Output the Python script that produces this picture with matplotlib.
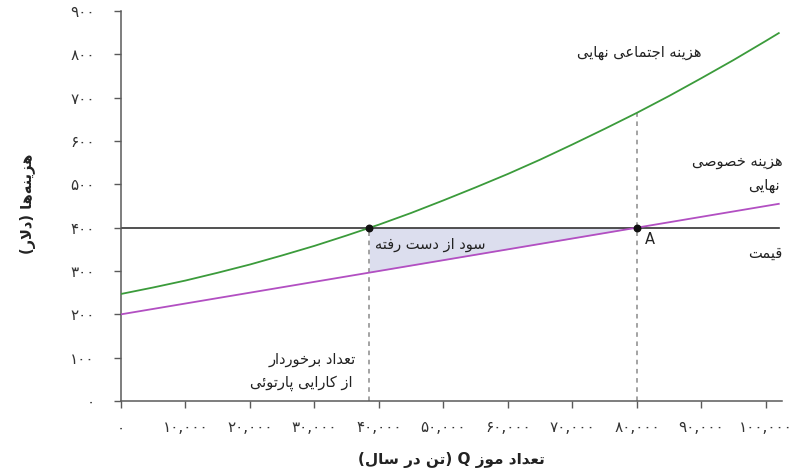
import numpy as np
import matplotlib
matplotlib.use("Agg")
import matplotlib.pyplot as plt

# --- data ---
q_tons = [0, 5000, 10000, 15000, 20000, 25000, 30000, 35000, 40000, 45000, 50000,
          55000, 60000, 65000, 70000, 75000, 80000, 85000, 90000, 95000, 100000, 102000]
msc = [247, 262, 278, 296, 315, 336, 358, 382, 407, 434, 463,
       493, 524, 557, 592, 628, 665, 704, 745, 787, 831, 849]   # marginal social cost
mpc = [200, 212.5, 225, 237.5, 250, 262.5, 275, 287.5, 300, 312.5, 325,
       337.5, 350, 362.5, 375, 387.5, 400, 412.5, 425, 437.5, 450, 455]   # marginal private cost
price = 400
q_pareto = 38500
q_market = 80000

x_ticks = [0, 10000, 20000, 30000, 40000, 50000, 60000, 70000, 80000, 90000, 100000]
y_ticks = [0, 100, 200, 300, 400, 500, 600, 700, 800, 900]

label_msc = "هزینه اجتماعی نهایی"
label_mpc = ["هزینه خصوصی", "نهایی"]
label_price = "قیمت"
label_loss = "سود از دست رفته"
label_pareto = ["تعداد برخوردار", "از کارایی پارتوئی"]
label_y = "هزینه\u200cها (دلار)"
label_x = "تعداد موز Q (تن در سال)"

# --- tiny arabic/persian shaper (matplotlib does no shaping itself) ---
FORMS = {
    'ا': (0xFE8D, 0xFE8E, 0xFE8D, 0xFE8E),
    'د': (0xFEA9, 0xFEAA, 0xFEA9, 0xFEAA),
    'ر': (0xFEAD, 0xFEAE, 0xFEAD, 0xFEAE),
    'ز': (0xFEAF, 0xFEB0, 0xFEAF, 0xFEB0),
    'و': (0xFEED, 0xFEEE, 0xFEED, 0xFEEE),
    'ب': (0xFE8F, 0xFE90, 0xFE91, 0xFE92),
    'ت': (0xFE95, 0xFE96, 0xFE97, 0xFE98),
    'ج': (0xFE9D, 0xFE9E, 0xFE9F, 0xFEA0),
    'خ': (0xFEA5, 0xFEA6, 0xFEA7, 0xFEA8),
    'س': (0xFEB1, 0xFEB2, 0xFEB3, 0xFEB4),
    'ص': (0xFEB9, 0xFEBA, 0xFEBB, 0xFEBC),
    'ع': (0xFEC9, 0xFECA, 0xFECB, 0xFECC),
    'ف': (0xFED1, 0xFED2, 0xFED3, 0xFED4),
    'ق': (0xFED5, 0xFED6, 0xFED7, 0xFED8),
    'ل': (0xFEDD, 0xFEDE, 0xFEDF, 0xFEE0),
    'م': (0xFEE1, 0xFEE2, 0xFEE3, 0xFEE4),
    'ن': (0xFEE5, 0xFEE6, 0xFEE7, 0xFEE8),
    'ه': (0xFEE9, 0xFEEA, 0xFEEB, 0xFEEC),
    'ئ': (0xFE89, 0xFE8A, 0xFE8B, 0xFE8C),
    'ی': (0xFBFC, 0xFBFD, 0xFBFE, 0xFBFF),
    'ک': (0xFB8E, 0xFB8F, 0xFB90, 0xFB91),
    'پ': (0xFB56, 0xFB57, 0xFB58, 0xFB59),
}
RIGHT_ONLY = set('ادرزو')
DUAL = set(FORMS) - RIGHT_ONLY


def fa(text):
    out = []
    i = 0
    n = len(text)
    while i < n:
        c = text[i]
        if c not in FORMS:
            if c != '\u200c':
                out.append(c)
            i += 1
            continue
        p = i > 0 and text[i - 1] in DUAL
        if c == 'ل' and i + 1 < n and text[i + 1] == 'ا':
            out.append('\uFEFC' if p else '\uFEFB')
            i += 2
            continue
        q = c in DUAL and i + 1 < n and text[i + 1] in FORMS
        iso, fin, ini, med = FORMS[c]
        out.append(chr(med if (p and q) else fin if p else ini if q else iso))
        i += 1
    return ''.join(out)[::-1].translate(str.maketrans('()', ')('))


FA_DIGITS = str.maketrans('0123456789', '۰۱۲۳۴۵۶۷۸۹')

plt.rcParams['font.family'] = ['DejaVu Sans']

GREEN = '#3b9b3b'
PURPLE = '#b24fc2'
FILL = '#dcdeee'
DASH = '#8a8a8a'
AXC = '#5a5a5a'

fig = plt.figure(figsize=(8.1, 4.73), dpi=100)
ax = fig.add_axes([121 / 810, 72 / 473, 661 / 810, 390 / 473])
ax.set_xlim(0, 102500)
ax.set_ylim(0, 900)

# lost profit triangle between price and private cost
qf = np.array([q_pareto, q_market])
ax.fill_between(qf, np.interp(qf, q_tons, mpc), price, color=FILL, lw=0, zorder=1)

ax.plot(q_tons, msc, color=GREEN, lw=1.3, zorder=3)
ax.plot(q_tons, mpc, color=PURPLE, lw=1.3, zorder=3)
ax.plot([0, q_tons[-1]], [price, price], color='#333333', lw=1.2, zorder=2)

ax.plot([q_pareto, q_pareto], [0, price], color=DASH, lw=1.1, ls=(0, (3, 3)), zorder=2)
ax.plot([q_market, q_market], [0, np.interp(q_market, q_tons, msc)], color=DASH, lw=1.1,
        ls=(0, (3, 3)), zorder=2)
ax.scatter([q_pareto, q_market], [price, price], s=22, color='#111111', zorder=5)

for s in ['top', 'right']:
    ax.spines[s].set_visible(False)
for s in ['left', 'bottom']:
    ax.spines[s].set_color(AXC)
    ax.spines[s].set_linewidth(1.1)
ax.spines['left'].set_bounds(0, 900)

ax.set_xticks(x_ticks)
ax.set_xticklabels([f"{v:,}".translate(FA_DIGITS) for v in x_ticks])
ax.set_yticks(y_ticks)
ax.set_yticklabels([str(v).translate(FA_DIGITS) for v in y_ticks])
ax.tick_params(axis='x', length=5, width=1, color=AXC, pad=9, labelsize=11, labelcolor='#333333')
ax.tick_params(axis='y', length=5, width=1, color=AXC, pad=14, labelsize=11, labelcolor='#333333')

tc = '#222222'
fs = 10.5
ax.text(90080, 805, fa(label_msc), ha='right', va='center', fontsize=fs, color=tc)
ax.text(102600, 552, fa(label_mpc[0]), ha='right', va='center', fontsize=fs, color=tc)
ax.text(102200, 498, fa(label_mpc[1]), ha='right', va='center', fontsize=fs, color=tc)
ax.text(102500, 342, fa(label_price), ha='right', va='center', fontsize=fs, color=tc)
ax.text(81300, 372, "A", ha='left', va='center', fontsize=fs, color=tc)
ax.text(39400, 360, fa(label_loss), ha='left', va='center', fontsize=fs, color=tc)
ax.text(36430, 95, fa(label_pareto[0]), ha='right', va='center', fontsize=fs, color=tc)
ax.text(35970, 42, fa(label_pareto[1]), ha='right', va='center', fontsize=fs, color=tc)

fig.text(451 / 810, 1 - 460 / 473, fa(label_x), ha='center', va='center', fontsize=11,
         fontweight='bold', color=tc)
fig.text(28 / 810, 1 - 204 / 473, fa(label_y), ha='center', va='center', rotation=90,
         fontsize=10.5, fontweight='bold', color=tc)

fig.savefig('out.png', dpi=100)
